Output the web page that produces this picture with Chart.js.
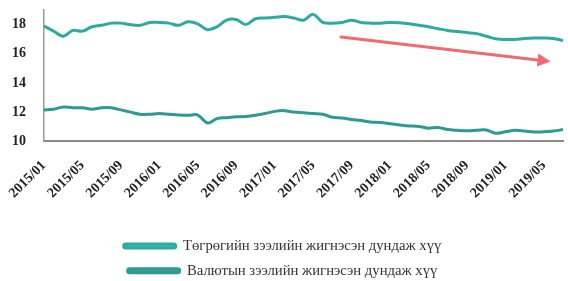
<!DOCTYPE html>
<html>
<head>
<meta charset="utf-8">
<script src="https://cdn.jsdelivr.net/npm/chart.js@4"></script>
<style>
html,body{margin:0;padding:0;background:#fff;}
#wrap{width:568px;height:281px;}
</style>
</head>
<body>
<div id="wrap"><canvas id="c" width="568" height="281"></canvas></div>
<script>
const months = [
 '2015/01','2015/02','2015/03','2015/04','2015/05','2015/06','2015/07','2015/08','2015/09','2015/10','2015/11','2015/12',
 '2016/01','2016/02','2016/03','2016/04','2016/05','2016/06','2016/07','2016/08','2016/09','2016/10','2016/11','2016/12',
 '2017/01','2017/02','2017/03','2017/04','2017/05','2017/06','2017/07','2017/08','2017/09','2017/10','2017/11','2017/12',
 '2018/01','2018/02','2018/03','2018/04','2018/05','2018/06','2018/07','2018/08','2018/09','2018/10','2018/11','2018/12',
 '2019/01','2019/02','2019/03','2019/04','2019/05','2019/06','2019/07'
];
const seriesNames = ['Төгрөгийн зээлийн жигнэсэн дундаж хүү', 'Валютын зээлийн жигнэсэн дундаж хүү'];
const tugrugRate = [
 17.9,17.55,17.2,17.6,17.55,17.85,17.95,18.1,18.1,18.0,17.95,18.15,
 18.15,18.1,17.95,18.2,18.05,17.65,17.85,18.3,18.35,18.0,18.4,18.45,
 18.5,18.55,18.45,18.3,18.7,18.15,18.1,18.15,18.3,18.15,18.1,18.1,
 18.15,18.12,18.05,17.95,17.85,17.72,17.6,17.52,17.45,17.38,17.2,17.03,
 16.98,16.98,17.05,17.08,17.08,17.05,16.9
];
const currencyRate = [
 12.15,12.2,12.35,12.3,12.3,12.2,12.3,12.3,12.15,12.0,11.85,11.85,
 11.9,11.85,11.8,11.78,11.8,11.25,11.55,11.62,11.68,11.7,11.78,11.9,
 12.05,12.1,12.0,11.95,11.9,11.85,11.65,11.6,11.5,11.42,11.32,11.28,
 11.2,11.12,11.05,11.02,10.9,10.95,10.8,10.75,10.72,10.75,10.78,10.55,
 10.65,10.75,10.7,10.64,10.65,10.7,10.8
];
const yTicks = [10, 12, 14, 16, 18];
// trend arrow annotation (category index, value)
const arrowStart = [30.9, 17.15];
const arrowEnd = [52.7, 15.47];

const arrowPlugin = {
  id: 'trendArrow',
  afterDatasetsDraw(chart) {
    const {ctx, scales:{x, y}} = chart;
    const x1 = x.getPixelForValue(arrowStart[0]), y1 = y.getPixelForValue(arrowStart[1]);
    const x2 = x.getPixelForValue(arrowEnd[0]), y2 = y.getPixelForValue(arrowEnd[1]);
    const ang = Math.atan2(y2 - y1, x2 - x1);
    const head = 13, hw = 6.5;
    ctx.save();
    ctx.strokeStyle = '#ef6b6e';
    ctx.fillStyle = '#ef6b6e';
    ctx.lineWidth = 3;
    ctx.lineCap = 'round';
    ctx.beginPath();
    ctx.moveTo(x1, y1);
    ctx.lineTo(x2 - head * Math.cos(ang), y2 - head * Math.sin(ang));
    ctx.stroke();
    ctx.beginPath();
    ctx.moveTo(x2, y2);
    ctx.lineTo(x2 - head * Math.cos(ang) + hw * Math.sin(ang), y2 - head * Math.sin(ang) - hw * Math.cos(ang));
    ctx.lineTo(x2 - head * Math.cos(ang) - hw * Math.sin(ang), y2 - head * Math.sin(ang) + hw * Math.cos(ang));
    ctx.closePath();
    ctx.fill();
    ctx.restore();
  }
};

new Chart(document.getElementById('c'), {
  type: 'line',
  data: {
    labels: months,
    datasets: [
      { label: seriesNames[0], data: tugrugRate, borderColor: '#30aa9f', backgroundColor: '#3dbfb3',
        borderWidth: 3, pointRadius: 0, tension: 0.35 },
      { label: seriesNames[1], data: currencyRate, borderColor: '#2d9b91', backgroundColor: '#35a298',
        borderWidth: 3, pointRadius: 0, tension: 0.35 }
    ]
  },
  options: {
    responsive: false,
    animation: false,
    devicePixelRatio: 1,
    layout: { padding: { left: 2, right: 5, top: 10, bottom: -7 } },
    plugins: {
      tooltip: { enabled: false },
      legend: {
        position: 'bottom',
        align: 'center',
        labels: {
          boxWidth: 52, boxHeight: 4, padding: 10,
          color: '#333',
          font: { family: 'Liberation Serif', size: 14.7 },
          useBorderRadius: true, borderRadius: 2
        }
      }
    },
    scales: {
      x: {
        grid: { display: false },
        border: { display: true, color: '#8a8a8a', width: 2 },
        ticks: {
          autoSkip: false, maxRotation: 45, minRotation: 45, padding: 8,
          color: '#222',
          font: { family: 'Liberation Serif', size: 14, weight: 'bold' },
          callback: function(v, i) { return i % 4 === 0 ? months[i] : ''; }
        },
        afterFit(scale) { scale.height += 19; scale.paddingRight = 0; }
      },
      y: {
        min: 10, max: 19,
        grid: { display: false },
        border: { display: true, color: '#9a9a9a', width: 1.5 },
        afterBuildTicks(scale) { scale.ticks = yTicks.map(v => ({ value: v })); },
        afterFit(scale) { scale.paddingTop = 0; },
        ticks: {
          padding: 10,
          color: '#222',
          font: { family: 'Liberation Serif', size: 14, weight: 'bold' }
        }
      }
    }
  },
  plugins: [arrowPlugin]
});
</script>
</body>
</html>
